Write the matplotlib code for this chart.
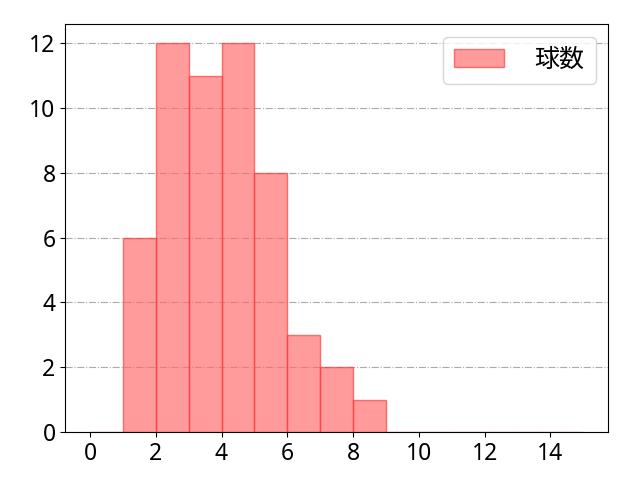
import numpy as np
import matplotlib.pyplot as plt

plt.rcParams['font.family'] = ['Noto Sans', 'Noto Sans CJK JP', 'DejaVu Sans']

# 球数の分布
bin_left = [1, 2, 3, 4, 5, 6, 7, 8]
counts = [6, 12, 11, 12, 8, 3, 2, 1]
edges = np.arange(0, 16)

fig, ax = plt.subplots(figsize=(6.4, 4.8), dpi=100)
fig.subplots_adjust(left=0.102, right=0.95, top=0.95, bottom=0.1)
ax.hist(bin_left, bins=edges, weights=counts, color='#ff6666', alpha=0.65,
        edgecolor='#ff3333', linewidth=1.0, label='球数')
ax.set_xlim(-0.75, 15.75)
ax.set_ylim(0, 12.6)
ax.set_xticks(range(0, 15, 2))
ax.set_yticks(range(0, 13, 2))
ax.tick_params(labelsize=16.5)
ax.grid(axis='y', linestyle='-.', color='#aaaaaa', linewidth=0.8)
ax.set_axisbelow(True)
ax.legend(fontsize=18, loc='upper right', handletextpad=1.2, borderpad=0.45)
fig.savefig('out.png')
